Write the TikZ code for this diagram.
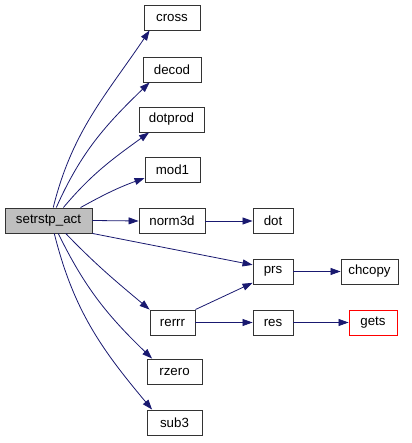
\documentclass[tikz,border=0pt]{standalone}
\usepackage{fontspec}
\setmainfont{Liberation Sans}
\usetikzlibrary{arrows.meta}

\definecolor{edgeblue}{HTML}{191970}
\definecolor{boxgray}{HTML}{BFBFBF}
\tikzset{
	fn/.style={draw=black!80, fill=white, line width=0.9pt, minimum height=25pt, inner sep=0pt, font=\fontsize{13.3}{16}\selectfont},
	call/.style={draw=edgeblue, line width=0.8pt, -{Triangle[length=10pt,width=7pt]}}
}

\begin{document}
\begin{tikzpicture}[x=1pt, y=1pt]
		
		\useasboundingbox (0,0) rectangle (411,443);
		
		% The caller
		\node[fn, fill=boxgray, minimum width=87pt] (act) at (48.5,222.5) {setrstp\_act};
		
		% Callees (first column)
		\node[fn, minimum width=56pt] (cross)   at (172,425.5) {cross};
		\node[fn, minimum width=58pt] (decod)   at (172,373.5) {decod};
		\node[fn, minimum width=65pt] (dotprod) at (171.5,323.5) {dotprod};
		\node[fn, minimum width=55pt] (mod1)    at (172.5,273) {mod1};
		\node[fn, minimum width=66pt] (norm3d)  at (172,222) {norm3d};
		\node[fn, minimum width=45pt] (rerrr)   at (172.5,120.5) {rerrr};
		\node[fn, minimum width=55pt] (rzero)   at (174.5,71.5) {rzero};
		\node[fn, minimum width=55pt] (sub3)    at (174.5,20.5) {sub3};
		
		% Second and third column
		\node[fn, minimum width=40pt] (dot)    at (273,222) {dot};
		\node[fn, minimum width=40pt] (prs)    at (273,171.5) {prs};
		\node[fn, minimum width=40pt] (res)    at (273,120.5) {res};
		\node[fn, minimum width=57pt] (chcopy) at (369.5,171.5) {chcopy};
		\node[fn, draw=red, minimum width=48pt] (gets) at (373,120.5) {gets};
		
		% Calls from setrstp_act
		\draw[call] (act.70) to[out=76, in=236] (cross.210);
		\draw[call] (act.59) to[out=66, in=224] (decod.210);
		\draw[call] (act.41) to[out=50, in=216] (dotprod.210);
		\draw[call] (act.22) to[out=29, in=200] (mod1.196);
		\draw[call] (act.east) -- (norm3d.west);
		\draw[call] (act.south east) -- (prs.162);
		\draw[call] (act.-37) to[out=-46, in=140] (rerrr.north west);
		\draw[call] (act.-53) to[out=-64, in=136] (rzero.150);
		\draw[call] (act.-66) to[out=-76, in=130] (sub3.150);
		
		% Further calls
		\draw[call] (norm3d.east) -- (dot.west);
		\draw[call] (prs.east) -- (chcopy.west);
		\draw[call] (rerrr.north east) -- (prs.209);
		\draw[call] (rerrr.east) -- (res.west);
		\draw[call] (res.east) -- (gets.west);
		
	\end{tikzpicture}
\end{document}
